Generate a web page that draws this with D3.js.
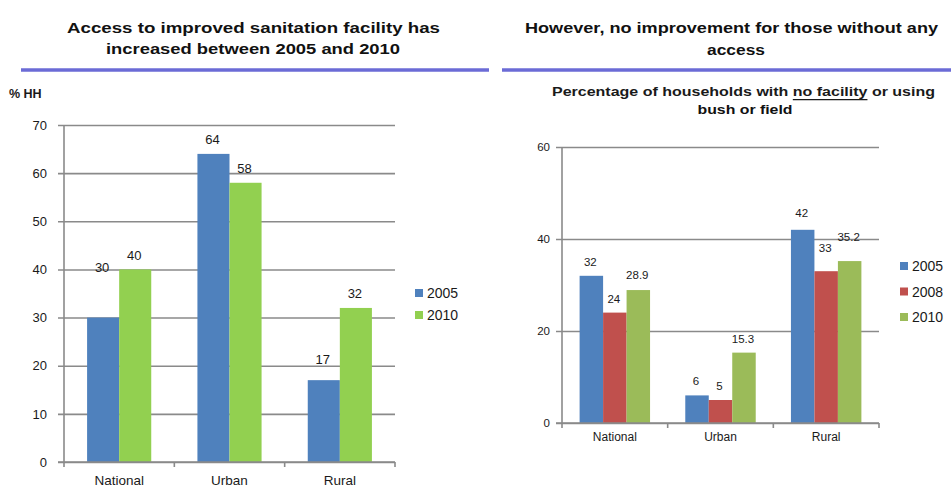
<!DOCTYPE html>
<html>
<head>
<meta charset="utf-8">
<script src="https://cdn.jsdelivr.net/npm/d3@7"></script>
<style>
  html, body { margin: 0; padding: 0; background: #fff; }
  svg { display: block; }
  text { font-family: "Liberation Sans", Arial, sans-serif; fill: #1a1a1a; }
</style>
</head>
<body>
<svg id="chart" width="951" height="486"></svg>
<script>
// ---------- DATA ----------
const leftCategories = ["National", "Urban", "Rural"];
const leftSeries = ["2005", "2010"];
const left2005 = [30, 64, 17];
const left2010 = [40, 58, 32];
const leftLabelAt2005 = [37.4, 64, 18.3];
const leftLabelAt2010 = [40, 58, 32];
const leftTicks = [0, 10, 20, 30, 40, 50, 60, 70];

const rightCategories = ["National", "Urban", "Rural"];
const rightSeries = ["2005", "2008", "2010"];
const right2005 = [32, 6, 42];
const right2008 = [24, 5, 33];
const right2010 = [28.9, 15.3, 35.2];
const rightLabelAt2005 = [32, 6, 42.6];
const rightLabelAt2008 = [24, 5, 35];
const rightLabelAt2010 = [29.1, 15.3, 37.4];
const rightTicks = [0, 20, 40, 60];

const leftColors = ["#4f81bd", "#92d050"];
const rightColors = ["#4f81bd", "#c0504d", "#9bbb59"];

// ---------- SETUP ----------
const svg = d3.select("#chart");
const gridColor = "#8a8a8a";

function centeredText(x, y, str, size, width, weight) {
  const t = svg.append("text")
    .attr("x", x).attr("y", y)
    .attr("text-anchor", "middle")
    .attr("dominant-baseline", "central")
    .attr("font-size", size)
    .attr("font-weight", weight || "bold")
    .style("fill", "#111")
    .text(str);
  if (width) t.attr("textLength", width).attr("lengthAdjust", "spacingAndGlyphs");
  return t;
}

// Titles
centeredText(253.5, 27, "Access  to improved sanitation facility has", 15, 373);
centeredText(253, 48, "increased between 2005 and 2010", 15, 294);
centeredText(731.5, 27, "However, no improvement for those without any", 15, 413);
centeredText(736, 49, "access", 15, 58);

// Divider lines
svg.append("line").attr("x1", 21).attr("x2", 489).attr("y1", 70).attr("y2", 70)
  .attr("stroke", "#6b6bd6").attr("stroke-width", 3.5);
svg.append("line").attr("x1", 502).attr("x2", 951).attr("y1", 70).attr("y2", 70)
  .attr("stroke", "#6b6bd6").attr("stroke-width", 3.5);

// Subtitle right
const sub = svg.append("text")
  .attr("x", 743.5).attr("y", 92)
  .attr("text-anchor", "middle").attr("dominant-baseline", "central")
  .attr("font-size", 12.5).attr("font-weight", "bold")
  .attr("textLength", 383).attr("lengthAdjust", "spacingAndGlyphs");
sub.append("tspan").text("Percentage  of households with  ");
sub.append("tspan").style("text-decoration", "underline").text("no facility");
sub.append("tspan").text("  or using");
centeredText(745, 110, "bush or field", 12.5, 95);

// % HH
svg.append("text").attr("x", 9).attr("y", 94)
  .attr("dominant-baseline", "central")
  .attr("font-size", 12.5).attr("font-weight", "bold")
  .text("% HH");

// ---------- GENERIC PANEL ----------
function drawPanel(opts) {
  const { cats, series, values, labelAt, colors, ticks, domain,
          x0, x1, yTop, yBottom, outerPad, tickFont, labelFont, catFont,
          catY, tickPad, legendX, legendY, legendStep, legendFont, catWeight, labelWeight } = opts;

  const y = d3.scaleLinear().domain(domain).range([yBottom, yTop]);
  const xb = d3.scaleBand().domain(cats).range([x0, x1]).padding(0);
  const xs = d3.scaleBand().domain(series).range([0, xb.bandwidth()])
    .paddingInner(0).paddingOuter(outerPad);

  // Y axis with gridlines
  const yAxis = d3.axisLeft(y).tickValues(ticks)
    .tickSize(-(x1 - x0)).tickSizeOuter(0).tickPadding(tickPad);
  const gy = svg.append("g").attr("transform", `translate(${x0},0)`).call(yAxis);
  gy.select(".domain").remove();
  gy.selectAll(".tick line").attr("x1", -6).attr("stroke", gridColor).attr("stroke-width", 1.6);
  gy.selectAll(".tick text").attr("font-size", tickFont)
    .attr("font-family", "Liberation Sans, Arial, sans-serif").style("fill", "#1a1a1a");

  // vertical axis line
  svg.append("line").attr("x1", x0).attr("x2", x0).attr("y1", y(domain[1])).attr("y2", yBottom)
    .attr("stroke", gridColor).attr("stroke-width", 1.6);

  // Bars
  cats.forEach((c, ci) => {
    series.forEach((s, si) => {
      svg.append("rect")
        .attr("x", xb(c) + xs(s))
        .attr("y", y(values[si][ci]))
        .attr("width", xs.bandwidth())
        .attr("height", yBottom - y(values[si][ci]))
        .attr("fill", colors[si]);
      svg.append("text")
        .attr("x", xb(c) + xs(s) + xs.bandwidth() / 2 - 1)
        .attr("y", y(labelAt[si][ci]) - 14)
        .attr("text-anchor", "middle").attr("dominant-baseline", "central")
        .attr("font-size", labelFont).attr("font-weight", labelWeight || "normal")
        .text(values[si][ci]);
    });
  });

  // X axis line + category tick marks
  svg.append("line").attr("x1", x0 - 6).attr("x2", x1).attr("y1", yBottom).attr("y2", yBottom)
    .attr("stroke", gridColor).attr("stroke-width", 1.6);
  const bounds = cats.map(c => xb(c)).concat([x1]);
  bounds.forEach(bx => {
    svg.append("line").attr("x1", bx).attr("x2", bx).attr("y1", yBottom).attr("y2", yBottom + 5)
      .attr("stroke", gridColor).attr("stroke-width", 1.6);
  });
  cats.forEach(c => {
    svg.append("text")
      .attr("x", xb(c) + xb.bandwidth() / 2)
      .attr("y", catY)
      .attr("text-anchor", "middle").attr("dominant-baseline", "central")
      .attr("font-size", catFont).attr("font-weight", catWeight || "normal")
      .text(c);
  });

  // Legend
  series.forEach((s, si) => {
    const ly = legendY + si * legendStep;
    svg.append("rect").attr("x", legendX).attr("y", ly - 4).attr("width", 8).attr("height", 8)
      .attr("fill", colors[si]);
    svg.append("text").attr("x", legendX + 12).attr("y", ly)
      .attr("dominant-baseline", "central").attr("font-size", legendFont)
      .text(s);
  });
}

drawPanel({
  cats: leftCategories, series: leftSeries,
  values: [left2005, left2010], labelAt: [leftLabelAt2005, leftLabelAt2010],
  colors: leftColors, ticks: leftTicks, domain: [0, 70],
  x0: 64, x1: 395, yTop: 125, yBottom: 462, outerPad: 0.72,
  tickFont: 13, labelFont: 13, catFont: 13.5, catY: 480, tickPad: 17,
  legendX: 415, legendY: 293, legendStep: 22, legendFont: 14
});

drawPanel({
  cats: rightCategories, series: rightSeries,
  values: [right2005, right2008, right2010],
  labelAt: [rightLabelAt2005, rightLabelAt2008, rightLabelAt2010],
  colors: rightColors, ticks: rightTicks, domain: [0, 60],
  x0: 562, x1: 879, yTop: 147, yBottom: 423, outerPad: 0.75,
  tickFont: 11.5, labelFont: 11.5, catFont: 12, catY: 437, tickPad: 12,
  legendX: 900, legendY: 266, legendStep: 25.5, legendFont: 14
});
</script>
</body>
</html>
